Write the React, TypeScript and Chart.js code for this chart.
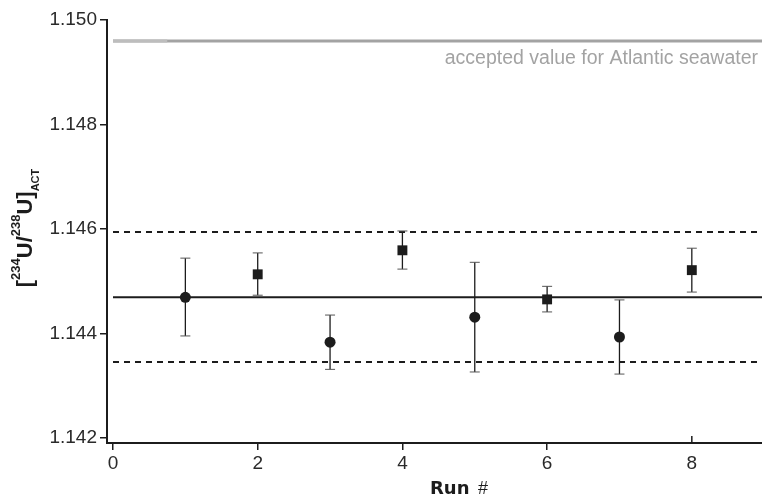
import { useEffect, useRef } from 'react';
import { Chart, registerables } from 'chart.js';

Chart.register(...registerables);

const circleRuns = [1, 3, 5, 7];
const circleValues = [1.14469, 1.14383, 1.14431, 1.14393];
const circleUpper = [1.14544, 1.14435, 1.14536, 1.14464];
const circleLower = [1.14395, 1.14331, 1.14326, 1.14322];

const squareRuns = [2, 4, 6, 8];
const squareValues = [1.14513, 1.14559, 1.14465, 1.14521];
const squareUpper = [1.14554, 1.14596, 1.1449, 1.14563];
const squareLower = [1.14473, 1.14523, 1.14441, 1.14479];

const meanValue = 1.14469;
const upperLimit = 1.14594;
const lowerLimit = 1.14345;
const atlanticValue = 1.1496;
const lineRunRange = [0, 8.97];
const lightSegmentRange = [0, 0.75];

const xTicks = [0, 2, 4, 6, 8];
const xTicksInward = [8];
const yTicks = [1.142, 1.144, 1.146, 1.148, 1.15];

const annotationText = 'accepted value for Atlantic seawater';

const FONT = '"Liberation Sans", Arial, sans-serif';
const TITLE_FONT = '"DejaVu Sans", sans-serif';
const INK = '#1c1c1c';

const errorBarPlugin = {
  id: 'errorBars',
  beforeDatasetDraw(chart: any, args: any) {
    const ds: any = chart.data.datasets[args.index];
    if (!ds.errUpper) return;
    const ctx = chart.ctx;
    const xs = chart.scales.x;
    const ys = chart.scales.y;
    ctx.save();
    ds.data.forEach((p: any, i: number) => {
      const x = xs.getPixelForValue(p.x);
      const yt = ys.getPixelForValue(ds.errUpper[i]);
      const yb = ys.getPixelForValue(ds.errLower[i]);
      ctx.strokeStyle = INK;
      ctx.lineWidth = 1.3;
      ctx.beginPath();
      ctx.moveTo(x, yt);
      ctx.lineTo(x, yb);
      ctx.stroke();
      ctx.strokeStyle = '#555';
      ctx.lineWidth = 1;
      ctx.beginPath();
      ctx.moveTo(x - 5, yt);
      ctx.lineTo(x + 5, yt);
      ctx.moveTo(x - 5, yb);
      ctx.lineTo(x + 5, yb);
      ctx.stroke();
    });
    ctx.restore();
  },
};

const textPlugin = {
  id: 'texts',
  afterDraw(chart: any) {
    const ctx = chart.ctx;
    const area = chart.chartArea;
    const xs = chart.scales.x;
    ctx.save();

    // inward x ticks
    ctx.strokeStyle = INK;
    ctx.lineWidth = 1.5;
    xTicksInward.forEach((v) => {
      const x = xs.getPixelForValue(v);
      ctx.beginPath();
      ctx.moveTo(x, area.bottom);
      ctx.lineTo(x, area.bottom - 7);
      ctx.stroke();
    });

    // annotation
    ctx.fillStyle = '#a3a3a3';
    ctx.font = `19.5px ${FONT}`;
    ctx.textAlign = 'right';
    ctx.textBaseline = 'alphabetic';
    ctx.fillText(annotationText, area.right - 4, 64);

    // y title
    const pieces = [
      { t: '[', size: 22, dy: 0 },
      { t: '234', size: 13, dy: -12 },
      { t: 'U/', size: 22, dy: 0 },
      { t: '238', size: 13, dy: -12 },
      { t: 'U]', size: 22, dy: 0 },
      { t: 'ACT', size: 11, dy: 7 },
    ];
    ctx.textAlign = 'left';
    ctx.fillStyle = INK;
    let total = 0;
    pieces.forEach((p) => {
      ctx.font = `bold ${p.size}px ${FONT}`;
      total += ctx.measureText(p.t).width;
    });
    ctx.translate(32, 228);
    ctx.rotate(-Math.PI / 2);
    let cx = -total / 2;
    pieces.forEach((p) => {
      ctx.font = `bold ${p.size}px ${FONT}`;
      ctx.fillText(p.t, cx, p.dy);
      cx += ctx.measureText(p.t).width;
    });
    ctx.setTransform(1, 0, 0, 1, 0, 0);

    // x title
    ctx.font = `bold 18px ${TITLE_FONT}`;
    ctx.textAlign = 'left';
    ctx.fillText('Run', 430, 494);
    ctx.font = `18px ${FONT}`;
    ctx.textAlign = 'right';
    ctx.fillText('#', 488, 494);
    ctx.restore();
  },
};

function hLine(value: number, range: number[], color: string, width: number, dash: number[] = []) {
  return {
    type: 'scatter' as const,
    data: range.map((x) => ({ x, y: value })),
    showLine: true,
    borderColor: color,
    borderWidth: width,
    borderDash: dash,
    pointRadius: 0,
    pointHoverRadius: 0,
  };
}

export default function App() {
  const ref = useRef<HTMLCanvasElement>(null);
  useEffect(() => {
    if (!ref.current) return;
    const chart = new Chart(ref.current, {
      type: 'scatter',
      data: {
        datasets: [
          {
            data: circleRuns.map((x, i) => ({ x, y: circleValues[i] })),
            errUpper: circleUpper,
            errLower: circleLower,
            pointStyle: 'circle',
            pointRadius: 5.5,
            backgroundColor: INK,
            borderColor: INK,
            borderWidth: 0,
          } as any,
          {
            data: squareRuns.map((x, i) => ({ x, y: squareValues[i] })),
            errUpper: squareUpper,
            errLower: squareLower,
            pointStyle: 'rect',
            pointRadius: 7,
            backgroundColor: INK,
            borderColor: INK,
            borderWidth: 0,
          } as any,
          hLine(meanValue, lineRunRange, INK, 2),
          hLine(upperLimit, lineRunRange, INK, 2, [6, 5]),
          hLine(lowerLimit, lineRunRange, INK, 2, [6, 5]),
          hLine(atlanticValue, lightSegmentRange, '#bdbdbd', 3),
          hLine(atlanticValue, lineRunRange, '#a3a3a3', 3),
        ],
      },
      options: {
        responsive: false,
        animation: false,
        events: [],
        layout: { autoPadding: false, padding: { top: 20, right: 0, left: 0, bottom: 0 } },
        plugins: { legend: { display: false }, tooltip: { enabled: false } },
        scales: {
          x: {
            type: 'linear',
            min: -0.083,
            max: 8.97,
            afterBuildTicks: (s: any) => {
              s.ticks = xTicks.map((v) => ({ value: v }));
            },
            afterFit: (s: any) => {
              s.height = 54;
            },
            grid: {
              drawOnChartArea: false,
              drawTicks: true,
              tickLength: 7,
              color: (c: any) => (c.tick && xTicksInward.includes(c.tick.value) ? 'rgba(0,0,0,0)' : INK),
              lineWidth: 1.5,
            },
            border: { color: INK, width: 2 },
            ticks: { font: { family: FONT, size: 19 }, color: '#2a2a2a', padding: 2, maxRotation: 0 },
          },
          y: {
            type: 'linear',
            min: 1.1419,
            max: 1.15,
            afterBuildTicks: (s: any) => {
              s.ticks = yTicks.map((v) => ({ value: v }));
            },
            afterFit: (s: any) => {
              s.width = 107;
            },
            grid: { drawOnChartArea: false, drawTicks: true, tickLength: 7, color: INK, lineWidth: 1.5 },
            border: { color: INK, width: 2 },
            ticks: {
              font: { family: FONT, size: 19 },
              color: '#2a2a2a',
              padding: 3,
              callback: (v: any) => Number(v).toFixed(3),
            },
          },
        },
      } as any,
      plugins: [errorBarPlugin, textPlugin],
    });
    return () => chart.destroy();
  }, []);
  return (
    <div style={{ position: 'absolute', left: 0, top: 0 }}>
      <canvas ref={ref} width={762} height={497} style={{ width: 762, height: 497, display: 'block' }} />
    </div>
  );
}
